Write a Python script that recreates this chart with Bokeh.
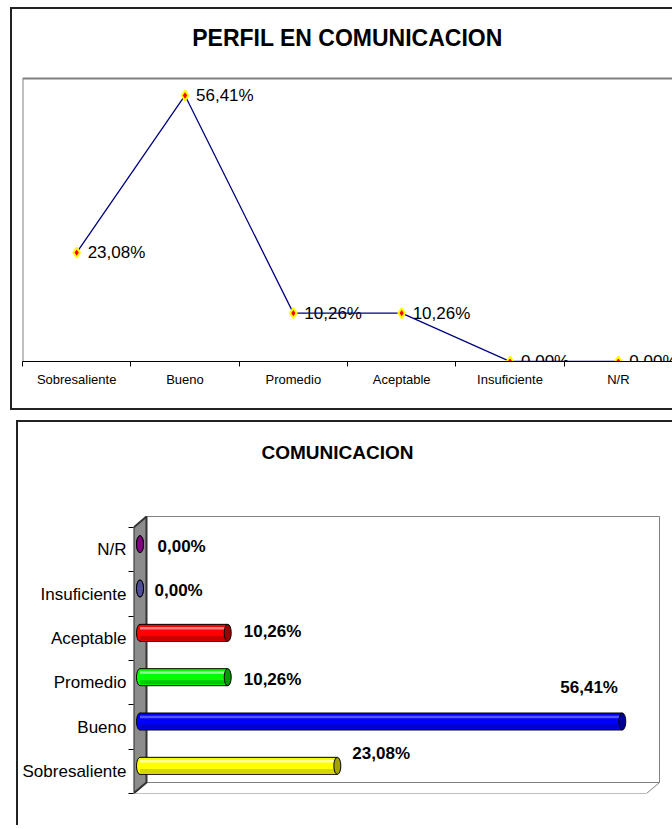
from bokeh.plotting import figure
from bokeh.models import Range1d, FixedTicker, ColumnDataSource
from bokeh.embed import file_html
from bokeh.resources import INLINE
from bokeh.core.properties import value

# ---------------- data ----------------
categories = ["Sobresaliente", "Bueno", "Promedio", "Aceptable", "Insuficiente", "N/R"]
percentages = [23.08, 56.41, 10.26, 10.26, 0.00, 0.00]
value_labels = ["23,08%", "56,41%", "10,26%", "10,26%", "0,00%", "0,00%"]
line_title = "PERFIL EN COMUNICACION"
bar_title = "COMUNICACION"

# ---------------- styles ----------------
FONT = "Liberation Sans"
BOX = "2px solid #222222"
bar_colors = ["#FFFF00", "#0000FF", "#00FF00", "#FF0000", "#6666B3", "#990099"]
cap_colors = ["#A3A300", "#000099", "#009900", "#990000", "#4D4D99", "#800080"]
hl_colors = ["#FFFF99", "#5555FF", "#99FF99", "#FF8080", "#9999CC", "#CC66CC"]
sh_colors = ["#D6D600", "#0000C8", "#00C800", "#C80000", "#55559A", "#800080"]
label_dx = [15, -62, 16, 16, 14.5, 17.5]
label_dy = [-12, -34.5, 2.5, -1.5, 1.5, 2.5]

n = len(categories)
xs = [i + 0.5 for i in range(n)]

# ================= top: line chart =================
W1, H1 = 662, 403
Y1MAX = 60
PY1 = 283 / Y1MAX            # px per percent
AX1 = 352                    # canvas y of the category axis
p1 = figure(width=W1, height=H1, x_range=Range1d(0, n), y_range=Range1d(0, AX1 / PY1),
            output_backend="svg", toolbar_location=None, title=None,
            min_border_left=10, min_border_right=2, min_border_top=0,
            min_border_bottom=H1 - AX1)
p1.styles = {"margin-left": "10px", "margin-top": "7px",
             "border-left": BOX, "border-top": BOX, "border-bottom": BOX}
p1.xgrid.visible = False
p1.ygrid.visible = False
p1.yaxis.visible = False
p1.outline_line_color = None

ax = p1.xaxis[0]
ax.ticker = FixedTicker(ticks=xs, minor_ticks=list(range(n + 1)))
ax.major_label_overrides = {x: c for x, c in zip(xs, categories)}
ax.major_tick_line_color = None
ax.major_tick_out = 0
ax.major_tick_in = 0
ax.minor_tick_line_color = "black"
ax.minor_tick_out = 5
ax.minor_tick_in = 0
ax.axis_line_color = "black"
ax.axis_line_width = 1
ax.major_label_standoff = 5
ax.major_label_text_font = FONT
ax.major_label_text_font_size = "13px"
ax.major_label_text_color = "black"

# plot-area border (grey, top and left)
p1.segment(x0=[0, 0], y0=[Y1MAX, 0], x1=[n, 0], y1=[Y1MAX, Y1MAX],
           line_color="#808080", line_width=2)

src1 = ColumnDataSource(dict(x=xs, y=percentages, t=value_labels))
p1.text(x="x", y="y", text="t", source=src1, x_offset=11, text_baseline="middle",
        text_align="left", text_font=value(FONT), text_font_size="17px", text_color="black")
p1.line(x="x", y="y", source=src1, line_color="#000080", line_width=1.3)
p1.scatter(x="x", y="y", source=src1, marker="diamond", size=10,
           fill_color="#FF0000", line_color="#FFFF00", line_width=2)

# chart title, 41 px above the plot area
p1.text(x=[n / 2], y=[Y1MAX + 41 / PY1], text=[line_title], text_align="center",
        text_baseline="middle", text_font=value(FONT), text_font_size="23px",
        text_font_style="bold", text_color="black")

# ================= bottom: 3D-like bar chart =================
W2, H2 = 656, 405
PX_X = 8.55     # px per percent unit
PX_Y = 44.33    # px per category
ML2 = 115
MR2 = 2
FB2 = 371       # canvas y of the floor front edge
dx = 13 / PX_X
dy = 11 / PX_Y
xmax = 60

p2 = figure(width=W2, height=H2, x_range=Range1d(0, (W2 - ML2 - MR2) / PX_X),
            y_range=Range1d(0, FB2 / PX_Y),
            output_backend="svg", toolbar_location=None, title=None,
            min_border_left=ML2, min_border_right=MR2, min_border_top=0,
            min_border_bottom=H2 - FB2)
p2.styles = {"margin-left": "16px", "margin-top": "10px",
             "border-left": BOX, "border-top": BOX}
p2.xgrid.visible = False
p2.ygrid.visible = False
p2.xaxis.visible = False
p2.outline_line_color = None

ay = p2.yaxis[0]
ay.ticker = FixedTicker(ticks=xs, minor_ticks=list(range(n + 1)))
ay.major_label_overrides = {x: c for x, c in zip(xs, categories)}
ay.major_tick_line_color = None
ay.major_tick_out = 0
ay.major_tick_in = 0
ay.minor_tick_line_color = "black"
ay.minor_tick_out = 5
ay.minor_tick_in = 0
ay.axis_line_color = None
ay.major_label_standoff = 2
ay.major_label_text_font = FONT
ay.major_label_text_font_size = "17px"
ay.major_label_text_color = "black"

# walls
p2.quad(left=dx, right=xmax + dx, bottom=dy, top=n + dy, fill_color="white",
        line_color="#808080", line_width=1)
p2.patch([0, xmax, xmax + dx, dx], [0, 0, dy, dy], fill_color="white",
         line_color="#808080", line_width=1)
p2.patch([0, dx, dx, 0], [0, dy, n + dy, n], fill_color="#8C8C8C",
         line_color="#333333", line_width=2)

# cylinders
bh = 17 / PX_Y
cw = 7 / PX_X
ys = [i + 0.5 + dy / 2 for i in range(n)]
x0 = [dx / 2] * n
x1 = [dx / 2 + v for v in percentages]
src2 = dict(x0=x0, x1=x1, y=ys, yt=[y + bh / 2 for y in ys], yb=[y - bh / 2 for y in ys],
            yh=[y + bh * 0.27 for y in ys], ysd=[y - bh * 0.30 for y in ys],
            c=bar_colors, cc=cap_colors, hc=hl_colors, sc=sh_colors,
            t=value_labels, dxo=label_dx, dyo=label_dy)
s2 = ColumnDataSource(src2)
p2.ellipse(x="x0", y="y", width=cw, height=bh, source=s2, fill_color="c",
           line_color="black", line_width=1)
p2.quad(left="x0", right="x1", bottom="yb", top="yt", source=s2, fill_color="c", line_color=None)
p2.segment(x0="x0", y0="yh", x1="x1", y1="yh", source=s2, line_color="hc", line_width=2.5)
p2.segment(x0="x0", y0="ysd", x1="x1", y1="ysd", source=s2, line_color="sc", line_width=4)
p2.segment(x0="x0", y0="yt", x1="x1", y1="yt", source=s2, line_color="black", line_width=1)
p2.segment(x0="x0", y0="yb", x1="x1", y1="yb", source=s2, line_color="black", line_width=1)
p2.ellipse(x="x1", y="y", width=cw, height=bh, source=s2, fill_color="cc",
           line_color="black", line_width=1)
p2.text(x="x1", y="y", text="t", source=s2, x_offset="dxo", y_offset="dyo",
        text_baseline="middle", text_align="left", text_font=value(FONT),
        text_font_size="17px", text_font_style="bold", text_color="black")

# chart title
p2.text(x=[(337 - 133) / PX_X], y=[(793 - 452) / PX_Y], text=[bar_title], text_align="center",
        text_baseline="middle", text_font=value(FONT), text_font_size="19px",
        text_font_style="bold", text_color="black")

open("out.html", "w").write(file_html([p1, p2], INLINE))
